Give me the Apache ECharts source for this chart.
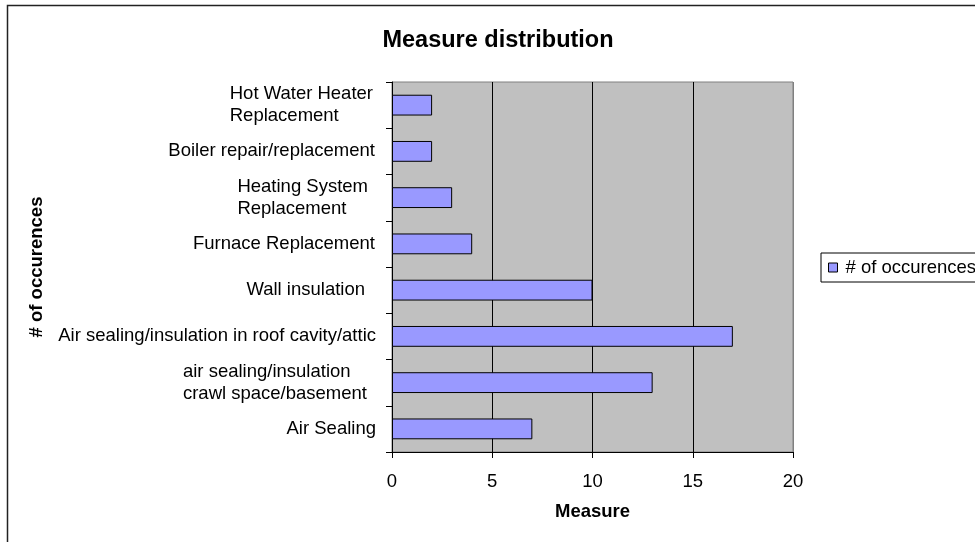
<!DOCTYPE html>
<html>
<head>
<meta charset="utf-8">
<title>Measure distribution</title>
<script src="https://cdn.jsdelivr.net/npm/echarts@6/dist/echarts.min.js"></script>
<style>
  html, body { margin: 0; padding: 0; background: #ffffff; }
  #chart { width: 975px; height: 542px; }
</style>
</head>
<body>
<div id="chart"></div>
<script>
// Measures, listed top to bottom
const categories = [
  'Hot Water Heater\nReplacement',
  'Boiler repair/replacement',
  'Heating System\nReplacement',
  'Furnace Replacement',
  'Wall insulation',
  'Air sealing/insulation in roof cavity/attic',
  'air sealing/insulation\ncrawl space/basement',
  'Air Sealing'
];
const occurrences = [2, 2, 3, 4, 10, 17, 13, 7];
const seriesName = '# of occurences';
const xTicks = { min: 0, max: 20, interval: 5 };

// Extra right-hand space after each category label (px)
const labelRightPad = [3, 1, 8, 1, 11, 0, 9, 0];

const FONT = "'Liberation Sans', Arial, sans-serif";

const rich = {};
labelRightPad.forEach(function (p, i) {
  rich['c' + i] = {
    fontFamily: FONT, fontSize: 18.5, color: '#000',
    lineHeight: 22, align: 'left', padding: [0, p, 0, 0]
  };
});

const chart = echarts.init(document.getElementById('chart'), null, { renderer: 'canvas' });

chart.setOption({
  animation: false,
  backgroundColor: '#ffffff',
  title: {
    text: 'Measure distribution',
    left: 493,
    textAlign: 'center',
    top: 24,
    textStyle: { fontFamily: FONT, fontSize: 23.5, fontWeight: 'bold', color: '#000' }
  },
  legend: {
    data: [seriesName],
    left: 821,
    top: 253,
    orient: 'vertical',
    icon: 'rect',
    itemWidth: 9,
    itemHeight: 9,
    padding: [4, 30, 4, 7],
    borderColor: '#000',
    borderWidth: 1,
    backgroundColor: '#fff',
    borderRadius: 0,
    itemStyle: { color: '#9999FF', borderColor: '#000', borderWidth: 1 },
    textStyle: {
      fontFamily: FONT, fontSize: 18.5, color: '#000', lineHeight: 21,
      padding: [0, 0, 0, 3]
    }
  },
  graphic: [{
    type: 'rect',
    silent: true,
    shape: { x: 7.5, y: 5.5, width: 1000, height: 600 },
    style: { fill: 'none', stroke: '#222', lineWidth: 1.5 }
  }],
  grid: {
    left: 392,
    top: 82,
    width: 401,
    height: 370,
    show: true,
    backgroundColor: '#C0C0C0',
    borderColor: '#808080',
    borderWidth: 1,
    containLabel: false
  },
  xAxis: {
    type: 'value',
    min: xTicks.min,
    max: xTicks.max,
    interval: xTicks.interval,
    name: 'Measure',
    nameLocation: 'middle',
    nameGap: 50,
    nameTextStyle: { fontFamily: FONT, fontSize: 18.5, fontWeight: 'bold', color: '#000' },
    axisLine: { show: true, lineStyle: { color: '#000', width: 1 } },
    axisTick: { show: true, length: 6, lineStyle: { color: '#000', width: 1 } },
    axisLabel: { margin: 20, fontFamily: FONT, fontSize: 18.5, color: '#000' },
    splitLine: {
      show: true,
      lineStyle: { color: ['#000', '#000', '#000', '#000', '#808080'], width: 1 }
    }
  },
  yAxis: {
    type: 'category',
    inverse: true,
    data: categories,
    name: '# of occurences',
    nameLocation: 'middle',
    nameGap: 346,
    nameTextStyle: { fontFamily: FONT, fontSize: 18.5, fontWeight: 'bold', color: '#000' },
    axisLine: { show: true, lineStyle: { color: '#000', width: 1 } },
    axisTick: { show: true, length: 6, lineStyle: { color: '#000', width: 1 } },
    axisLabel: {
      interval: 0,
      margin: 16,
      formatter: function (value, index) {
        return value.split('\n').map(function (line) {
          return '{c' + index + '|' + line + '}';
        }).join('\n');
      },
      rich: rich
    },
    splitLine: { show: false }
  },
  series: [{
    name: seriesName,
    type: 'bar',
    data: occurrences,
    barCategoryGap: '55%',
    itemStyle: { color: '#9999FF', borderColor: '#000', borderWidth: 1 }
  }]
});
</script>
</body>
</html>
